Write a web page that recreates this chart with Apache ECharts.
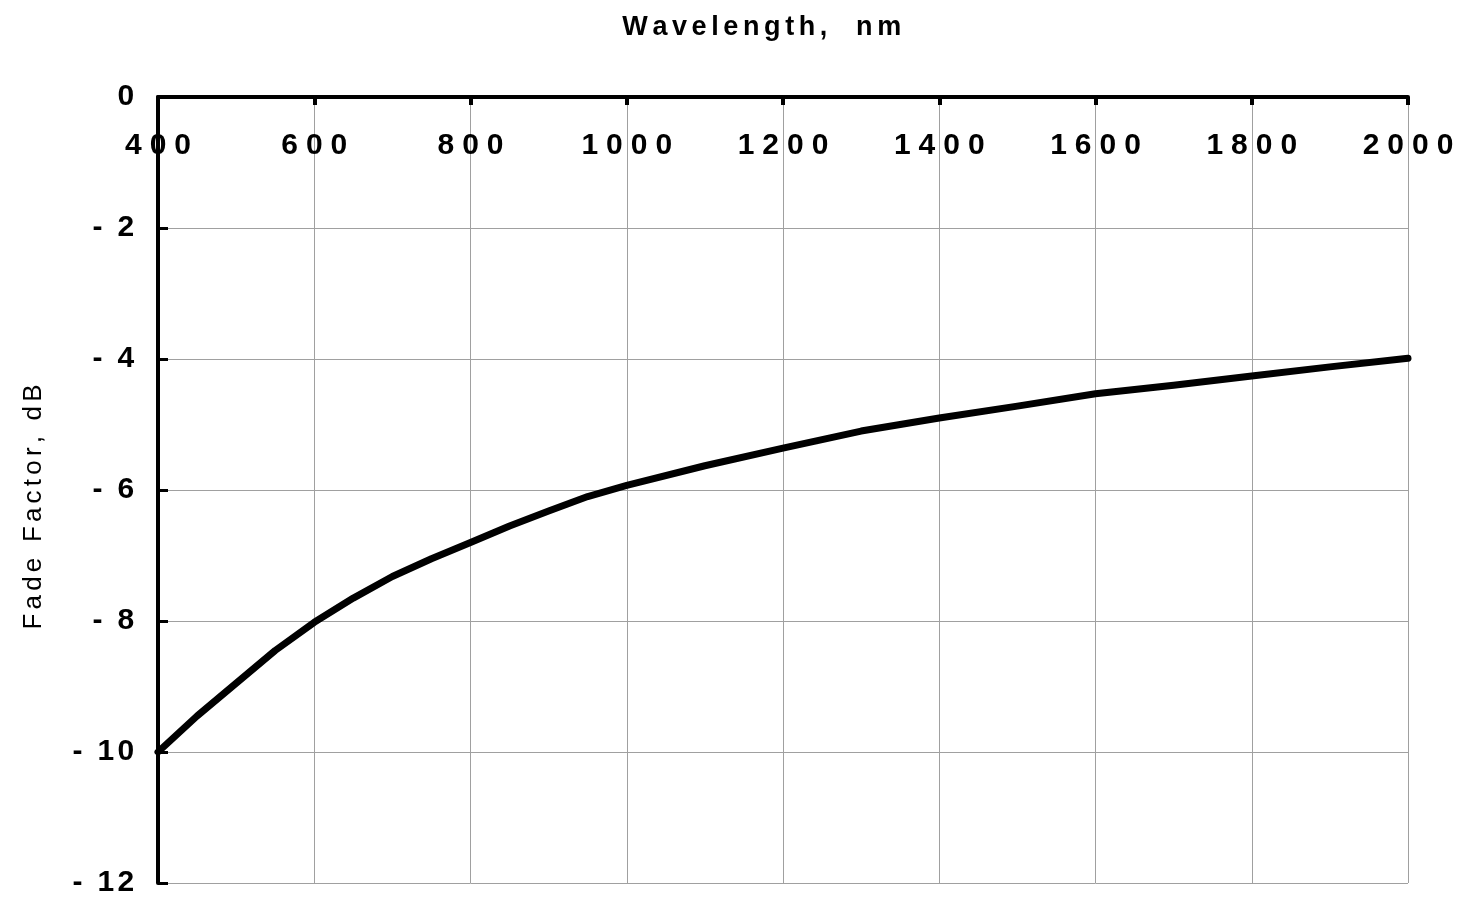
<!DOCTYPE html>
<html>
<head>
<meta charset="utf-8">
<script src="https://cdn.jsdelivr.net/npm/echarts@6/dist/echarts.min.js"></script>
<style>
html,body{margin:0;padding:0;background:#fff;}
#c{width:1457px;height:898px;}
</style>
</head>
<body>
<div id="c"></div>
<script>
// Data
const wavelengths = [400, 450, 500, 550, 600, 650, 700, 750, 800, 850, 900, 950, 1000, 1100, 1200, 1300, 1400, 1500, 1600, 1700, 1800, 1900, 2000];
const fadeFactor = [-10.0, -9.45, -8.95, -8.45, -8.02, -7.65, -7.32, -7.05, -6.80, -6.55, -6.32, -6.10, -5.93, -5.63, -5.36, -5.10, -4.90, -4.72, -4.53, -4.40, -4.26, -4.12, -3.99];
const xTickValues = [400, 600, 800, 1000, 1200, 1400, 1600, 1800, 2000];
const xTickLabels = ['400', '600', '800', '1000', '1200', '1400', '1600', '1800', '2000'];
const yTickValues = [-12, -10, -8, -6, -4, -2, 0];
const yTickLabels = ['-12', '-10', '-8', '-6', '-4', '-2', '0'];
const xAxisTitle = 'Wavelength,  nm';
const yAxisTitle = 'Fade Factor, dB';

// wrap every character in a rich token so that letter spacing can be applied
function spread(str, styleName) {
  return str.split('').map(ch => '{' + styleName + '|' + ch + '}').join('');
}
function yLabel(s) {
  if (s.charAt(0) === '-') return spread('- ' + s.slice(1), 'y');
  return spread(s, 'y');
}

const chart = echarts.init(document.getElementById('c'), null, {renderer: 'canvas'});
const font = 'Liberation Sans, Arial, Helvetica, sans-serif';

chart.setOption({
  backgroundColor: '#ffffff',
  animation: false,
  grid: {left: 158, right: 49, top: 97, bottom: 14, containLabel: false},
  graphic: [{
    type: 'text',
    x: 620, y: 28,
    style: {
      text: spread(xAxisTitle, 't'),
      verticalAlign: 'middle',
      fill: '#000',
      rich: {t: {fontFamily: font, fontWeight: 'bold', fontSize: 27, color: '#000', padding: [0, 2.3, 0, 2.3]}}
    }
  }, {
    type: 'text',
    x: 34, y: 507,
    rotation: Math.PI / 2,
    style: {
      text: spread(yAxisTitle, 'n'),
      align: 'center',
      verticalAlign: 'middle',
      fill: '#000',
      rich: {n: {fontFamily: font, fontSize: 26, color: '#000', padding: [0, 2.1, 0, 2.1]}}
    }
  }],
  xAxis: {
    type: 'value',
    position: 'top',
    min: 400, max: 2000, interval: 200,
    axisLine: {show: true, onZero: false, lineStyle: {color: '#000', width: 4}},
    axisTick: {show: true, inside: true, length: 8, lineStyle: {color: '#000', width: 4}},
    axisLabel: {
      inside: true, margin: 34,
      color: '#000', fontFamily: font, fontWeight: 'bold', fontSize: 30,
      formatter: function (v) { const i = xTickValues.indexOf(v); return i >= 0 ? spread(xTickLabels[i], 'd') : ''; },
      rich: {d: {fontFamily: font, fontWeight: 'bold', fontSize: 30, color: '#000', padding: [0, 4, 0, 4]}}
    },
    splitLine: {show: true, lineStyle: {color: '#a0a0a0', width: 1}}
  },
  yAxis: {
    type: 'value',
    min: -12, max: 0, interval: 2,
    axisLine: {show: true, onZero: false, lineStyle: {color: '#000', width: 4}},
    axisTick: {show: true, inside: true, length: 10, lineStyle: {color: '#000', width: 3}},
    axisLabel: {
      margin: 22,
      color: '#000', fontFamily: font, fontWeight: 'bold', fontSize: 30,
      formatter: function (v) { const i = yTickValues.indexOf(v); return i >= 0 ? yLabel(yTickLabels[i]) : ''; },
      rich: {y: {fontFamily: font, fontWeight: 'bold', fontSize: 30, color: '#000', padding: [0, 1.7, 0, 1.7]}}
    },
    splitLine: {show: true, lineStyle: {color: '#a0a0a0', width: 1}}
  },
  series: [{
    type: 'line',
    data: wavelengths.map((w, i) => [w, fadeFactor[i]]),
    showSymbol: false,
    symbol: 'none',
    smooth: false,
    lineStyle: {color: '#000', width: 7, join: 'round', cap: 'round'},
    clip: false
  }]
});
</script>
</body>
</html>
